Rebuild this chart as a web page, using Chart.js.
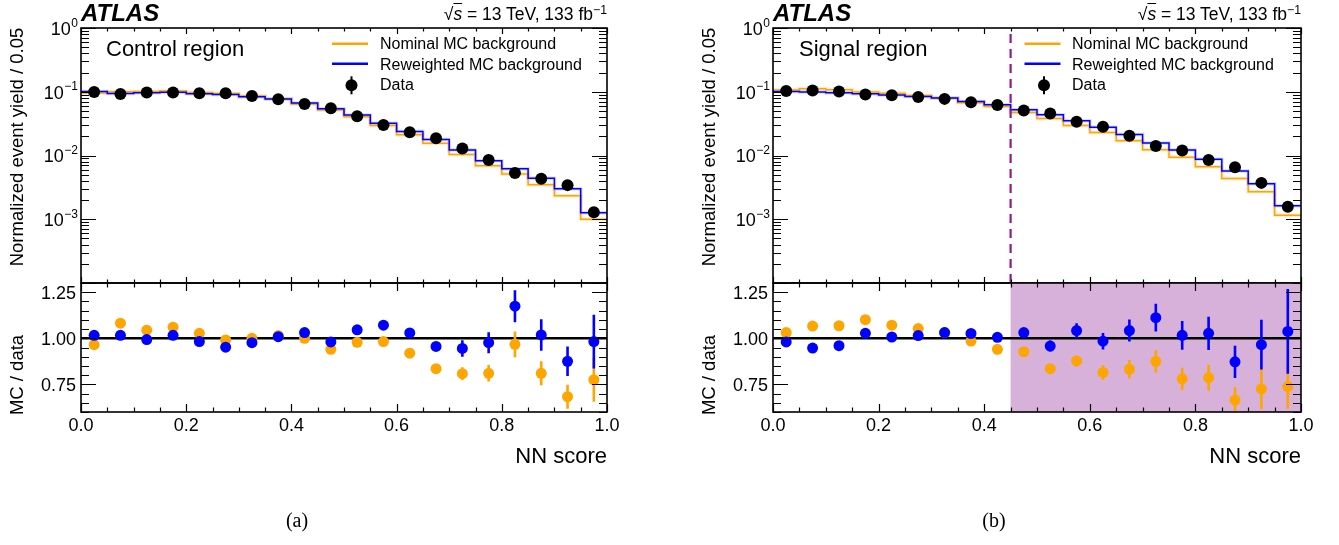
<!DOCTYPE html>
<html><head><meta charset="utf-8">
<script src="https://cdn.jsdelivr.net/npm/chart.js@4.4.1/dist/chart.umd.min.js"></script>
<style>
html,body{margin:0;padding:0;background:#fff;}
body{width:1339px;height:545px;position:relative;overflow:hidden;font-family:'Liberation Sans',Arial,Helvetica,sans-serif;color:#000;}
canvas{position:absolute;left:0;top:0;}
.t{position:absolute;white-space:nowrap;line-height:1;}
.rot{position:absolute;white-space:nowrap;line-height:1;transform:translate(-50%,-50%) rotate(-90deg);font-size:18.5px;}
.sup{font-size:0.7em;position:relative;top:-0.45em;}
</style></head><body>
<canvas id="upA" width="1339" height="545"></canvas>
<canvas id="loA" width="1339" height="545"></canvas>
<canvas id="upB" width="1339" height="545"></canvas>
<canvas id="loB" width="1339" height="545"></canvas>

<!-- panel (a) texts -->
<div class="t" style="left:81px;top:1px;font-style:italic;font-weight:bold;font-size:24px;">ATLAS</div>
<div class="t" style="right:732px;top:5.8px;font-size:17.5px;">√<i style="text-decoration:overline">s</i> = 13 TeV, 133 fb<span class="sup">−1</span></div>
<div class="t" style="left:106px;top:38px;font-size:22px;">Control region</div>
<div class="t" style="left:380px;top:35.8px;font-size:16px;">Nominal MC background</div>
<div class="t" style="left:380px;top:57.2px;font-size:16px;">Reweighted MC background</div>
<div class="t" style="left:380px;top:77.2px;font-size:16px;">Data</div>
<div class="rot" style="left:17px;top:146.5px;">Normalized event yield / 0.05</div>
<div class="rot" style="left:17px;top:375px;">MC / data</div>
<div class="t" style="right:732px;top:444.5px;font-size:22px;">NN score</div>
<div class="t" style="left:297px;top:510px;font-size:20px;font-family:'Liberation Serif','Times New Roman',serif;transform:translateX(-50%);">(a)</div>

<!-- panel (b) texts -->
<div class="t" style="left:773px;top:1px;font-style:italic;font-weight:bold;font-size:24px;">ATLAS</div>
<div class="t" style="right:38px;top:5.8px;font-size:17.5px;">√<i style="text-decoration:overline">s</i> = 13 TeV, 133 fb<span class="sup">−1</span></div>
<div class="t" style="left:799px;top:38px;font-size:22px;">Signal region</div>
<div class="t" style="left:1072px;top:35.8px;font-size:16px;">Nominal MC background</div>
<div class="t" style="left:1072px;top:57.2px;font-size:16px;">Reweighted MC background</div>
<div class="t" style="left:1072px;top:77.2px;font-size:16px;">Data</div>
<div class="rot" style="left:709px;top:146.5px;">Normalized event yield / 0.05</div>
<div class="rot" style="left:709px;top:375px;">MC / data</div>
<div class="t" style="right:38px;top:444.5px;font-size:22px;">NN score</div>
<div class="t" style="left:994px;top:510px;font-size:20px;font-family:'Liberation Serif','Times New Roman',serif;transform:translateX(-50%);">(b)</div>

<script>
// ---------------- DATA ----------------
const binLow    = [0.00,0.05,0.10,0.15,0.20,0.25,0.30,0.35,0.40,0.45,0.50,0.55,0.60,0.65,0.70,0.75,0.80,0.85,0.90,0.95];
const binHigh   = [0.05,0.10,0.15,0.20,0.25,0.30,0.35,0.40,0.45,0.50,0.55,0.60,0.65,0.70,0.75,0.80,0.85,0.90,0.95,1.00];
const binCenter = [0.025,0.075,0.125,0.175,0.225,0.275,0.325,0.375,0.425,0.475,0.525,0.575,0.625,0.675,0.725,0.775,0.825,0.875,0.925,0.975];

// Control region (a)
const crData        = [0.0993,0.0925,0.0970,0.0970,0.0948,0.0948,0.0859,0.0764,0.0644,0.0552,0.0414,0.0300,0.0231,0.0186,0.0129,0.0085,0.0053,0.0043,0.00343,0.00129];
const crNominal     = [0.0958,0.1001,0.1013,0.1028,0.0974,0.0939,0.0859,0.0775,0.0644,0.0519,0.0405,0.0295,0.0212,0.0155,0.0104,0.00689,0.00513,0.00348,0.00234,0.00100];
const crReweighted  = [0.1009,0.0940,0.0963,0.0986,0.0931,0.0902,0.0838,0.0771,0.0664,0.0541,0.0433,0.0321,0.0238,0.0178,0.0122,0.00830,0.00622,0.00438,0.00300,0.00127];
const crRatioNom    = [0.965,1.082,1.044,1.060,1.027,0.991,1.000,1.015,1.000,0.940,0.978,0.982,0.919,0.835,0.808,0.810,0.967,0.810,0.683,0.775];
const crRatioNomErr = [0.008,0.008,0.008,0.008,0.008,0.008,0.008,0.009,0.010,0.011,0.012,0.014,0.018,0.025,0.035,0.045,0.070,0.065,0.065,0.120];
const crRatioRew    = [1.016,1.016,0.993,1.016,0.982,0.952,0.976,1.009,1.031,0.980,1.046,1.071,1.029,0.956,0.945,0.976,1.174,1.018,0.875,0.982];
const crRatioRewErr = [0.008,0.008,0.008,0.008,0.008,0.008,0.008,0.009,0.010,0.011,0.013,0.016,0.027,0.025,0.045,0.057,0.087,0.085,0.080,0.146];

// Signal region (b)
const srData        = [0.1030,0.1045,0.1007,0.0904,0.0881,0.0830,0.0773,0.0685,0.0622,0.0508,0.0456,0.0337,0.0282,0.0204,0.0141,0.0120,0.0085,0.00655,0.00372,0.00157];
const srNominal     = [0.1062,0.1114,0.1075,0.0995,0.0944,0.0874,0.0797,0.0675,0.0585,0.0471,0.0381,0.0296,0.0230,0.0170,0.0123,0.00936,0.00668,0.00436,0.00270,0.00116];
const srReweighted  = [0.1009,0.0990,0.0967,0.0928,0.0887,0.0842,0.0797,0.0703,0.0625,0.0524,0.0437,0.0351,0.0277,0.0213,0.0157,0.0122,0.00873,0.00571,0.00359,0.00163];
const srRatioNom    = [1.031,1.066,1.068,1.101,1.071,1.053,1.031,0.985,0.940,0.927,0.835,0.877,0.815,0.832,0.875,0.780,0.786,0.665,0.725,0.738];
const srRatioNomErr = [0.008,0.008,0.008,0.009,0.009,0.010,0.010,0.010,0.011,0.015,0.020,0.030,0.040,0.050,0.060,0.060,0.070,0.070,0.110,0.120];
const srRatioRew    = [0.980,0.947,0.960,1.027,1.007,1.015,1.031,1.026,1.005,1.031,0.958,1.042,0.984,1.042,1.112,1.016,1.027,0.872,0.965,1.037];
const srRatioRewErr = [0.008,0.008,0.008,0.008,0.008,0.009,0.009,0.010,0.011,0.020,0.030,0.040,0.045,0.060,0.075,0.078,0.090,0.087,0.135,0.230];
const signalCut = 0.45;

// Tick labels
const xMajorTicks   = [0.0,0.2,0.4,0.6,0.8,1.0];
const xTickLabels   = ['0.0','0.2','0.4','0.6','0.8','1.0'];
const ratioTicks    = [0.75,1.00,1.25];
const ratioTickLabels = ['0.75','1.00','1.25'];
const yieldExponents = [0,-1,-2,-3];

// ---------------- STYLE / LAYOUT ----------------
const W = 1339, H = 545;
const TOP = 28, MID = 283, BOT = 412;
const ORANGE = '#ffa500', BLUE = '#0000ff';
const FONT = "'Liberation Sans', Arial, Helvetica, sans-serif";
Chart.defaults.font.family = FONT;
Chart.defaults.color = '#000';

function stepPoints(vals){
  const pts = binLow.map((x,i)=>({x:x, y:vals[i]}));
  pts.push({x:binHigh[binHigh.length-1], y:vals[vals.length-1]});
  return pts;
}
function pointsOf(vals){ return binCenter.map((x,i)=>({x:x, y:vals[i]})); }

// minor tick helpers (axis decoration only)
function seq(a,b,s){ const r=[]; for(let v=a; v<=b+1e-9; v+=s) r.push(Math.round(v*1000)/1000); return r; }
const xMinor = seq(0,1,0.05);
const ratioMinor = seq(0.6,1.3,0.05);
const logMinor = []; for (let e=-4;e<0;e++){ for(let m=1;m<=9;m++) logMinor.push({v:m*Math.pow(10,e), major:m===1}); } logMinor.push({v:1,major:true});

const frameTicks = {
  id:'frameTicks',
  afterDatasetsDraw(chart, args, o){
    const {ctx, chartArea:a} = chart;
    const x = chart.scales.x, y = chart.scales.y;
    ctx.save();
    ctx.strokeStyle = '#000'; ctx.lineWidth = 1.2;
    ctx.beginPath();
    for (const v of xMinor){
      const px = Math.round(x.getPixelForValue(v))+0.5;
      const major = xMajorTicks.some(m=>Math.abs(m-v)<1e-6);
      const L = major ? o.xMajor : o.xMinor;
      ctx.moveTo(px,a.bottom); ctx.lineTo(px,a.bottom-L);
      ctx.moveTo(px,a.top); ctx.lineTo(px,a.top+L);
    }
    const yt = o.log ? logMinor : ratioMinor.map(v=>({v:v, major: ratioTicks.some(m=>Math.abs(m-v)<1e-6)}));
    for (const t of yt){
      const py = Math.round(y.getPixelForValue(t.v))+0.5;
      const L = t.major ? o.yMajor : o.yMinor;
      ctx.moveTo(a.left,py); ctx.lineTo(a.left+L,py);
      ctx.moveTo(a.right,py); ctx.lineTo(a.right-L,py);
    }
    ctx.stroke();
    ctx.lineWidth = 1.6;
    ctx.strokeRect(a.left, a.top, a.right-a.left, a.bottom-a.top);
    ctx.fillStyle = '#000';
    if (o.log){
      ctx.textAlign = 'right'; ctx.textBaseline = 'alphabetic';
      for (const e of yieldExponents){
        const py = y.getPixelForValue(Math.pow(10,e));
        const expTxt = e===0 ? '0' : '\u2212' + (-e);
        ctx.font = '12px ' + FONT;
        const ew = ctx.measureText(expTxt).width;
        ctx.fillText(expTxt, a.left - 3, py - 1.5);
        ctx.font = '18px ' + FONT;
        ctx.fillText('10', a.left - 3 - ew - 0.5, py + 6.8);
      }
    } else {
      ctx.font = '18px ' + FONT;
      ctx.textBaseline = 'alphabetic';
      ctx.textAlign = 'right';
      ratioTicks.forEach((v,i)=>{
        ctx.fillText(ratioTickLabels[i], a.left - 5, y.getPixelForValue(v) + 6.4);
      });
      ctx.textAlign = 'center';
      xMajorTicks.forEach((v,i)=>{
        ctx.fillText(xTickLabels[i], x.getPixelForValue(v), a.bottom + 18.5);
      });
    }
    if (o.legend){
      const L = o.legend;
      ctx.lineWidth = 2.5;
      ctx.strokeStyle = ORANGE; ctx.beginPath(); ctx.moveTo(L.x1, L.y1); ctx.lineTo(L.x2, L.y1); ctx.stroke();
      ctx.strokeStyle = BLUE; ctx.beginPath(); ctx.moveTo(L.x1, L.y2); ctx.lineTo(L.x2, L.y2); ctx.stroke();
      ctx.strokeStyle = '#000'; ctx.lineWidth = 2; ctx.beginPath(); ctx.moveTo(L.xm, L.y3-9); ctx.lineTo(L.xm, L.y3+9); ctx.stroke();
      ctx.fillStyle = '#000'; ctx.beginPath(); ctx.arc(L.xm, L.y3, 6, 0, Math.PI*2); ctx.fill();
    }
    ctx.restore();
  },
  beforeDatasetsDraw(chart, args, o){
    if (o.shadeFrom === undefined || o.shadeFrom === null) return;
    const {ctx, chartArea:a} = chart;
    const px = chart.scales.x.getPixelForValue(o.shadeFrom);
    ctx.save(); ctx.fillStyle = '#d7b1d9';
    ctx.fillRect(px, a.top, a.right-px, a.bottom-a.top);
    ctx.restore();
  },
  beforeDatasetDraw(chart, args){
    const ds = chart.data.datasets[args.index];
    if (!ds.yErr) return;
    const {ctx, chartArea:a} = chart;
    const x = chart.scales.x, y = chart.scales.y;
    ctx.save();
    ctx.beginPath(); ctx.rect(a.left, a.top, a.right-a.left, a.bottom-a.top); ctx.clip();
    ctx.strokeStyle = ds.pointBackgroundColor; ctx.lineWidth = 2.6;
    ctx.beginPath();
    ds.data.forEach((p,i)=>{
      const px = x.getPixelForValue(p.x);
      ctx.moveTo(px, y.getPixelForValue(p.y + ds.yErr[i]));
      ctx.lineTo(px, y.getPixelForValue(p.y - ds.yErr[i]));
    });
    ctx.stroke();
    ctx.restore();
  }
};

function makeUpper(id, left, right, data, nom, rew, cut, legend){
  const datasets = [
    {label:'Data', data:pointsOf(data), showLine:false, pointRadius:6, pointBackgroundColor:'#000', pointBorderWidth:0, order:1},
    {label:'Reweighted MC background', data:stepPoints(rew), showLine:true, stepped:true, borderColor:BLUE, borderWidth:1.5, pointRadius:0, order:3},
    {label:'Nominal MC background', data:stepPoints(nom), showLine:true, stepped:true, borderColor:ORANGE, borderWidth:1.5, pointRadius:0, order:4},
    {label:'rew band', data:stepPoints(rew), showLine:true, stepped:true, borderColor:'rgba(90,90,255,0.22)', borderWidth:3.5, pointRadius:0, order:5},
    {label:'nom band', data:stepPoints(nom), showLine:true, stepped:true, borderColor:'rgba(255,180,60,0.28)', borderWidth:3.5, pointRadius:0, order:6}
  ];
  if (cut !== null){
    datasets.push({label:'cut', data:[{x:cut,y:1e-4},{x:cut,y:1}], showLine:true, borderColor:'#8e1c8e', borderWidth:2.2, borderDash:[9,6], pointRadius:0, order:2});
  }
  return new Chart(document.getElementById(id), {
    type:'scatter',
    data:{datasets:datasets},
    options:{
      responsive:false, devicePixelRatio:1, animation:false, events:[],
      layout:{padding:{left:left, right:W-right, top:TOP, bottom:H-MID}},
      scales:{
        x:{type:'linear', min:0, max:1, display:false},
        y:{type:'logarithmic', min:1e-4, max:1, display:false}
      },
      plugins:{legend:{display:false}, tooltip:{enabled:false},
        frameTicks:{log:true, xMajor:6, xMinor:3.5, yMajor:15, yMinor:8, legend:legend, shadeFrom:null}}
    },
    plugins:[frameTicks]
  });
}

function makeLower(id, left, right, rNom, rNomErr, rRew, rRewErr, cut){
  return new Chart(document.getElementById(id), {
    type:'scatter',
    data:{datasets:[
      {label:'Reweighted / data', data:pointsOf(rRew), yErr:rRewErr, showLine:false, pointRadius:5.5, pointBackgroundColor:BLUE, pointBorderWidth:0, order:1},
      {label:'Nominal / data', data:pointsOf(rNom), yErr:rNomErr, showLine:false, pointRadius:5.5, pointBackgroundColor:ORANGE, pointBorderWidth:0, order:2},
      {label:'unity', data:[{x:0,y:1},{x:1,y:1}], showLine:true, borderColor:'#000', borderWidth:2.6, pointRadius:0, order:3}
    ]},
    options:{
      responsive:false, devicePixelRatio:1, animation:false, events:[],
      layout:{padding:{left:left, right:W-right, top:MID, bottom:H-BOT}},
      scales:{
        x:{type:'linear', min:0, max:1, display:false},
        y:{type:'linear', min:0.6, max:1.3, display:false}
      },
      plugins:{legend:{display:false}, tooltip:{enabled:false},
        frameTicks:{log:false, xMajor:8, xMinor:4.5, yMajor:15, yMinor:8, legend:null, shadeFrom:cut}}
    },
    plugins:[frameTicks]
  });
}

makeUpper('upA', 81, 607, crData, crNominal, crReweighted, null,
  {x1:332, x2:368, y1:43.7, y2:63.7, xm:351.5, y3:85.3});
makeLower('loA', 81, 607, crRatioNom, crRatioNomErr, crRatioRew, crRatioRewErr, null);
makeUpper('upB', 773, 1301, srData, srNominal, srReweighted, signalCut,
  {x1:1024.5, x2:1060.5, y1:43.7, y2:63.7, xm:1044, y3:85.3});
makeLower('loB', 773, 1301, srRatioNom, srRatioNomErr, srRatioRew, srRatioRewErr, signalCut);
</script>
</body></html>
